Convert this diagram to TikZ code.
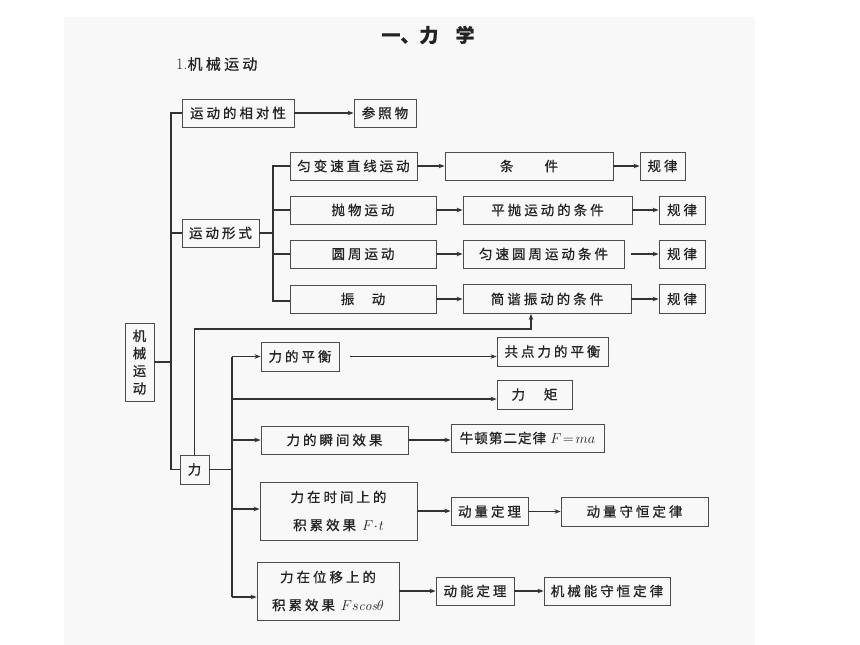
\documentclass[tikz,border=0pt]{standalone}
\usepackage{fontspec}
\newfontfamily\cjk[LetterSpace=22,FakeBold=0.8]{Noto Sans CJK SC}
\newfontfamily\cjkm[LetterSpace=8,FakeBold=0.8]{Noto Sans CJK SC}
\newfontfamily\cjkn[FakeBold=0.8]{Noto Sans CJK SC}
\usetikzlibrary{arrows.meta}
\definecolor{paper}{RGB}{248,248,248}
\definecolor{ink}{RGB}{35,35,35}
\begin{document}
\begin{tikzpicture}[x=1pt,y=-1pt,
  bx/.style={draw=black!70, line width=0.85pt, inner sep=0pt, minimum height=28pt,
    font=\cjk\fontsize{13.5}{13.5}\selectfont, text=ink},
  two/.style={bx, minimum height=58pt, align=center, font=\cjk\fontsize{13.5}{28}\selectfont},
  ln/.style={draw=black!80, line width=1.05pt},
  ar/.style={ln, -{Stealth[length=6pt,width=4.5pt]}},
]
\useasboundingbox (0,0) rectangle (860,645);
\fill[white] (0,0) rectangle (860,645);
\fill[paper] (64,17) rectangle (755,645);

% titles
\node[font=\cjkn\bfseries\fontsize{19}{19}\selectfont, text=ink] (title) at (428,35) {一、力\hspace{0.9em}学};
\node[anchor=west, text=ink, inner sep=0pt] (sub) at (176,64) {\fontsize{16}{16}\selectfont 1.{\cjk\fontsize{15}{15}\selectfont 机械运动}};

% left column
\node[bx, minimum width=29pt, minimum height=78pt, align=center, font=\cjkn\fontsize{13.5}{17.5}\selectfont] (jx) at (139.5,362) {机\\械\\运\\动};
\node[bx, minimum width=112pt] (rel) at (238,113) {运动的相对性};
\node[bx, minimum width=62pt] (cz) at (385,113) {参照物};
\node[bx, minimum width=77pt] (xs) at (220.5,233) {运动形式};
\node[bx, minimum width=29pt, minimum height=29pt, font=\cjkn\fontsize{13.5}{13.5}\selectfont] (li) at (194.5,469.5) {力};

% motion forms
\node[bx, minimum width=127pt] (yb) at (353.5,166) {匀变速直线运动};
\node[bx, minimum width=168pt] (tj1) at (529,166) {条\hspace{2.3em}件};
\node[bx, minimum width=45pt] (gl1) at (662.5,166) {规律};

\node[bx, minimum width=146pt] (pw) at (363,210) {抛物运动};
\node[bx, minimum width=169pt] (tj2) at (547.5,210) {平抛运动的条件};
\node[bx, minimum width=46pt] (gl2) at (682,210) {规律};

\node[bx, minimum width=146pt] (yz) at (363,254) {圆周运动};
\node[bx, minimum width=161pt] (tj3) at (543.5,254) {匀速圆周运动条件};
\node[bx, minimum width=46pt] (gl3) at (682,254) {规律};

\node[bx, minimum width=146pt] (zd) at (363,299) {振\hspace{1.3em}动};
\node[bx, minimum width=168pt, minimum height=29pt] (tj4) at (547,299) {简谐振动的条件};
\node[bx, minimum width=46pt, minimum height=29pt] (gl4) at (682,299) {规律};

% force
\node[bx, minimum width=78pt, minimum height=29pt] (ph) at (300,356.5) {力的平衡};
\node[bx, minimum width=111pt, minimum height=29pt] (gd) at (552.5,351.5) {共点力的平衡};
\node[bx, minimum width=75pt, minimum height=29pt] (lj) at (534.5,394.5) {力\hspace{1.4em}矩};
\node[bx, minimum width=153pt, font=\cjkm\fontsize{13.5}{13.5}\selectfont] (nd) at (527.5,438) {牛顿第二定律 $F\!=\!ma$};
\node[bx, minimum width=147pt] (sj) at (334.5,440) {力的瞬间效果};
\node[two, minimum width=157pt] (sjj) at (338.5,511) {力在时间上的\\积累效果 $F\!\cdot\! t$};
\node[bx, minimum width=77pt] (dl) at (489.5,511.5) {动量定理};
\node[bx, minimum width=147pt, minimum height=29pt] (dsh) at (634.5,511.5) {动量守恒定律};
\node[two, minimum width=142pt] (wy) at (328,591) {力在位移上的\\积累效果 $Fs\mathit{cos}\theta$};
\node[bx, minimum width=78pt] (dn) at (475,591) {动能定理};
\node[bx, minimum width=126pt] (jxn) at (607,591) {机械能守恒定律};

% main bus
\coordinate (m1) at (171,113);
\coordinate (m2) at (171,469.5);
\draw[ln] (rel.west) -- (m1) -- (m2) -- (li.west);
\draw[ln] (xs.west) -- (xs.west -| m1);
\draw[ln] (jx.east) -- (jx.east -| m1);
\draw[ar] (rel.east) -- (cz.west);

% motion forms bus
\coordinate (s1) at (273,166);
\coordinate (s4) at (273,301);
\draw[ln] (xs.east) -- (xs.east -| s1);
\draw[ln] (yb.west) -- (s1) -- (s4) -- (s4 -| zd.west);
\draw[ln] (pw.west) -- (pw.west -| s1);
\draw[ln] (yz.west) -- (yz.west -| s1);
\draw[ar] (yb) -- (tj1);
\draw[ar] (tj1) -- (gl1);
\draw[ar] (pw) -- (tj2);
\draw[ar] (tj2) -- (gl2);
\draw[ar] (yz) -- (tj3);
\draw[ar] ([xshift=7pt]tj3.east) -- (gl3.west);
\draw[ar] (zd) -- (tj4);
\draw[ar] (tj4) -- (gl4);

% force up to tj4
\coordinate (up) at (531,329);
\draw[ar] (li.north) |- (up) -- (up |- tj4.south);

% force bus
\coordinate (f0) at (232,469.5);
\coordinate (ft) at (232,356.5);
\coordinate (flj) at (232,399);
\coordinate (fsj) at (232,440);
\coordinate (fsjj) at (232,509);
\coordinate (fb) at (232,597);
\draw[ln] (li.east) -- (f0);
\draw[ln] (ft) -- (fb);
\draw[ar] (ft) -- (ph.west);
\draw[ar] (flj) -- (flj -| lj.west);
\draw[ar] (fsj) -- (sj.west);
\draw[ar] (fsjj) -- (fsjj -| sjj.west);
\draw[ar] (fb) -- (fb -| wy.west);

\draw[ar] ([xshift=11pt]ph.east) -- (ph.east -| gd.west);
\draw[ar] (sj.east) -- (sj.east -| nd.west);
\draw[ar] (sjj.east) -- (sjj.east -| dl.west);
\draw[ar] (dl) -- (dsh);
\draw[ar] (wy) -- (dn);
\draw[ar] (dn) -- (jxn);
\end{tikzpicture}
\end{document}
